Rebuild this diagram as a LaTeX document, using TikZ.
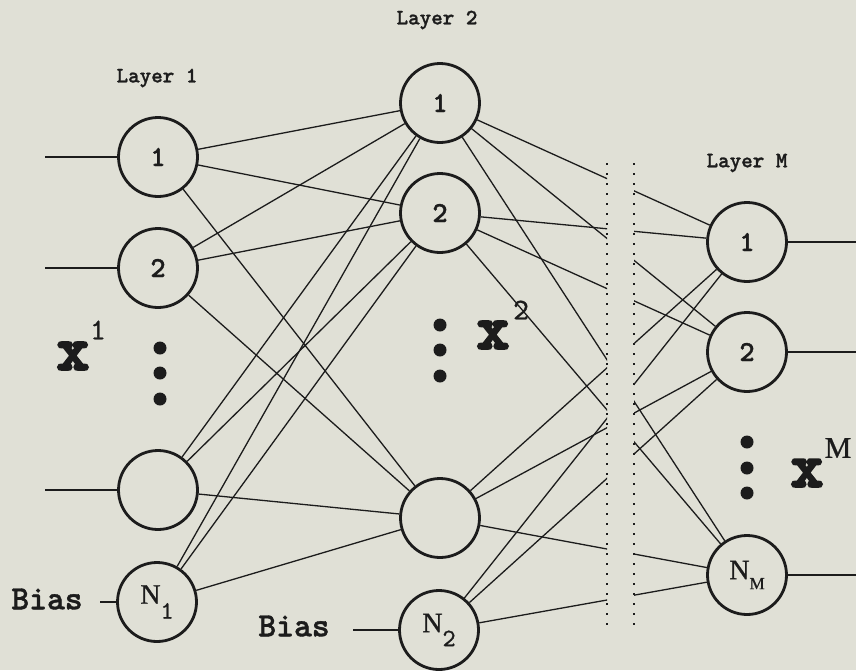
\documentclass[tikz,border=0pt]{standalone}
\usepackage{fontspec}
\newfontfamily\tyb{lmmonolt10-bold}[Extension=.otf,FakeBold=1.2]
\newfontfamily\ty{lmmono10-regular}[Extension=.otf,FakeBold=1]
\newfontfamily\heavyx{lmmonolt10-bold}[Extension=.otf,FakeBold=4]
\newfontfamily\tms{Liberation Serif}[FakeBold=0.8]
\definecolor{paper}{RGB}{224,224,214}
\definecolor{ink}{RGB}{28,28,28}

\begin{document}
\begin{tikzpicture}[x=1pt,y=-1pt,
  neuron/.style={circle,draw=ink,line width=2.8pt,minimum size=79pt,inner sep=0pt,
                 text=ink,font=\tyb\fontsize{29}{29}\selectfont},
  link/.style={draw=ink,line width=1.3pt},
  wire/.style={draw=ink,line width=1.7pt},
  layerlabel/.style={text=ink,font=\tyb\fontsize{22}{22}\selectfont},
  biaslabel/.style={text=ink,font=\tyb\fontsize{34}{34}\selectfont},
  vecx/.style={text=ink,inner sep=0pt,font=\heavyx\fontsize{62}{62}\selectfont},
  vecsup/.style={text=ink,inner sep=0pt,font=\ty\fontsize{30}{30}\selectfont},
  dotmark/.style={circle,fill=ink,inner sep=0pt,minimum size=13pt},
  sepline/.style={draw=ink,line width=1.8pt,dash pattern=on 1.8pt off 8.2pt},
]
\fill[paper] (0,0) rectangle (856,670);
\useasboundingbox (0,0) rectangle (856,670);

% layer 1
\node[neuron] (a1) at (158,157) {1};
\node[neuron] (a2) at (158,268) {2};
\node[neuron] (a3) at (158,490) {};
\node[neuron] (a4) at (157,602) {{\tms\fontsize{28}{28}\selectfont N}\raisebox{-15pt}{\ty\fontsize{25}{25}\selectfont 1}};

% layer 2
\node[neuron] (b1) at (440,103) {1};
\node[neuron] (b2) at (440,213) {2};
\node[neuron] (b3) at (440,518) {};
\node[neuron] (b4) at (439,630) {{\tms\fontsize{28}{28}\selectfont N}\raisebox{-14pt}{\ty\fontsize{25}{25}\selectfont 2}};

% layer M
\node[neuron] (c1) at (747,242) {1};
\node[neuron] (c2) at (747,352) {2};
\node[neuron] (c3) at (747,575) {{\tms\fontsize{28}{28}\selectfont N}\raisebox{-10pt}{\tms\fontsize{17}{17}\selectfont M}};

% layer titles
\node[layerlabel] (t1) at (157,78) {Layer 1};
\node[layerlabel] (t2) at (437,20) {Layer 2};
\node[layerlabel] (t3) at (747,163) {Layer M};

% ellipsis dots
\foreach \y [count=\k] in {348,373,399} \node[dotmark] (d1\k) at (160,\y) {};
\foreach \y [count=\k] in {325,350,376} \node[dotmark] (d2\k) at (440,\y) {};
\foreach \y [count=\k] in {442,468,493} \node[dotmark] (d3\k) at (747,\y) {};

% layer vectors
\node[vecx] (x1) at (73,356) {x};
\node[vecsup] (x1s) at (98,330) {1};
\node[vecx] (x2) at (493,335) {x};
\node[vecsup] (x2s) at (521,310) {2};
\node[vecx] (x3) at (807,473) {x};
\node[text=ink,inner sep=0pt,font=\tms\fontsize{30}{30}\selectfont] (x3s) at (838,448) {M};

% bias inputs
\node[biaslabel] (bias1) at (47,599) {Bias};
\node[biaslabel] (bias2) at (294,626) {Bias};
\coordinate (bw1) at (100,602);
\coordinate (bw2) at (353,630);
\draw[wire] (bw1) -- (a4);
\draw[wire] (bw2) -- (b4);

% external inputs and outputs
\coordinate (in1) at (45,157);
\coordinate (in2) at (45,268);
\coordinate (in3) at (45,490);
\draw[wire] (in1) -- (a1);
\draw[wire] (in2) -- (a2);
\draw[wire] (in3) -- (a3);
\coordinate (out1) at (856,242);
\coordinate (out2) at (856,352);
\coordinate (out3) at (856,575);
\draw[wire] (c1) -- (out1);
\draw[wire] (c2) -- (out2);
\draw[wire] (c3) -- (out3);

% layer 1 to layer 2
\foreach \i in {a1,a2,a3,a4}
  \foreach \j in {b1,b2,b3}
    \draw[link] (\i) -- (\j);

% layer 2 onwards to layer M, broken across the hidden layers
\begin{scope}
  \clip (0,0) rectangle (607,670) (634,0) rectangle (856,670);
  \foreach \i in {b1,b2,b3,b4}
    \foreach \j in {c1,c2,c3}
      \draw[link] (\i) -- (\j);
\end{scope}

% hidden-layer separators
\coordinate (s1t) at (607,163);
\coordinate (s1b) at (607,630);
\coordinate (s2t) at (634,163);
\coordinate (s2b) at (634,630);
\draw[sepline] (s1t) -- (s1b);
\draw[sepline] (s2t) -- (s2b);
\end{tikzpicture}
\end{document}
